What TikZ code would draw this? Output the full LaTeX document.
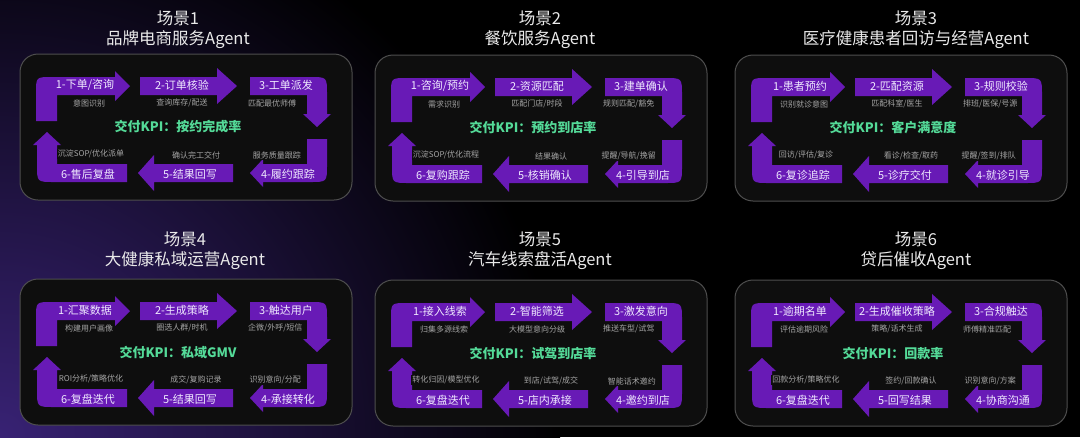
\documentclass[tikz,border=0pt]{standalone}
\usepackage{fontspec}
\newfontfamily\cjk{Noto Sans CJK SC}

\definecolor{flowpurple}{RGB}{104,26,182}
\definecolor{panelfill}{RGB}{14,14,14}
\definecolor{panelline}{RGB}{78,78,78}
\definecolor{steptext}{RGB}{240,234,255}
\definecolor{notegray}{RGB}{165,165,165}
\definecolor{kpigreen}{RGB}{84,218,152}
\definecolor{titlewhite}{RGB}{234,234,234}
\definecolor{glow}{RGB}{56,34,116}

\tikzset{
  panel/.style={draw=panelline, fill=panelfill, line width=1pt, rounded corners=18pt},
  flow/.style={fill=flowpurple},
  steplabel/.style={text=steptext, inner sep=0pt, font=\cjk\fontsize{11}{12}\selectfont},
  stepnote/.style={text=notegray, fill=panelfill, inner sep=1pt, font=\cjk\fontsize{8}{9}\selectfont},
  kpilabel/.style={text=kpigreen, inner sep=0pt, font=\cjk\bfseries\fontsize{13}{14}\selectfont},
  scenetitle/.style={text=titlewhite, align=center, inner sep=0pt, font=\cjk\fontsize{16.5}{20}\selectfont}
}

% frame and the six bent arrows of one scene (local coordinates)
\newcommand{\sceneloop}{%
  \draw[panel] (0,0) rectangle (332,146);
  \fill[flow] (16,67) -- (16,39) .. controls (16,23) .. (32,23) -- (95,23) -- (95,17)
    -- (110,32) -- (95,47) -- (95,41) -- (37,41) -- (37,67) -- cycle;
  \fill[flow] (120,23) -- (197,23) -- (197,14) -- (217,32) -- (197,50) -- (197,41)
    -- (120,41) -- cycle;
  \fill[flow] (230,23) -- (290,23) .. controls (307,23) .. (307,40) -- (307,60) -- (311,60)
    -- (297,73) -- (283,60) -- (287,60) -- (287,41) -- (230,41) -- cycle;
  \fill[flow] (287,85) -- (307,85) -- (307,111) .. controls (307,128) .. (290,128)
    -- (243,128) -- (243,133) -- (230,119) -- (243,105) -- (243,110) -- (287,110) -- cycle;
  \fill[flow] (213,110) -- (213,128) -- (134,128) -- (134,137) -- (118,119) -- (134,101)
    -- (134,110) -- cycle;
  \fill[flow] (107,110) -- (107,128) -- (34,128) .. controls (17,128) .. (17,111) -- (17,91)
    -- (13,91) -- (27,78) -- (41,91) -- (37,91) -- (37,110) -- cycle;
}
\newcommand{\steplabels}[7]{%
  \node[steplabel] (#1-step1) at (65,31) {#2};
  \node[steplabel] (#1-step2) at (162,31) {#3};
  \node[steplabel] (#1-step3) at (266,31) {#4};
  \node[steplabel] (#1-step4) at (268,120) {#5};
  \node[steplabel] (#1-step5) at (170,120) {#6};
  \node[steplabel] (#1-step6) at (68,120) {#7};
}
\newcommand{\stepnotes}[7]{%
  \node[stepnote] (#1-note1) at (69,49) {#2};
  \node[stepnote] (#1-note2) at (162,49) {#3};
  \node[stepnote, anchor=west] (#1-note3) at (227,49) {#4};
  \node[stepnote, anchor=east] (#1-note4) at (282,101) {#5};
  \node[stepnote] (#1-note5) at (176,101) {#6};
  \node[stepnote] (#1-note6) at (71,100) {#7};
}

\begin{document}
\begin{tikzpicture}[x=1pt, y=-1pt]
  \fill[black] (0,0) rectangle (1080,437);
  \begin{scope}
    \clip (0,0) rectangle (1080,437);
    \shade[inner color=glow, outer color=black] (0,437) circle (560);
  \end{scope}
  \useasboundingbox (0,0) rectangle (1080,437);

  % scene 1
  \node[scenetitle] (a-title) at (178,30) {场景1\\品牌电商服务Agent};
  \begin{scope}[shift={(20,54)}]
    \sceneloop
    \node[kpilabel] (a-kpi) at (158,73) {交付KPI：按约完成率};
    \steplabels{a}{1-下单/咨询}{2-订单核验}{3-工单派发}{4-履约跟踪}{5-结果回写}{6-售后复盘}
    \stepnotes{a}{意图识别}{查询库存/配送}{匹配最优师傅}{服务质量跟踪}{确认完工交付}{沉淀SOP/优化派单}
  \end{scope}

  % scene 2
  \node[scenetitle] (b-title) at (540,30) {场景2\\餐饮服务Agent};
  \begin{scope}[shift={(375,55)}]
    \sceneloop
    \node[kpilabel] (b-kpi) at (158,73) {交付KPI：预约到店率};
    \steplabels{b}{1-咨询/预约}{2-资源匹配}{3-建单确认}{4-引导到店}{5-核销确认}{6-复购跟踪}
    \stepnotes{b}{需求识别}{匹配门店/时段}{规则匹配/豁免}{提醒/导航/挽留}{结果确认}{沉淀SOP/优化流程}
  \end{scope}

  % scene 3
  \node[scenetitle] (c-title) at (916,30) {场景3\\医疗健康患者回访与经营Agent};
  \begin{scope}[shift={(735,55)}]
    \sceneloop
    \node[kpilabel] (c-kpi) at (158,73) {交付KPI：客户满意度};
    \steplabels{c}{1-患者预约}{2-匹配资源}{3-规则校验}{4-就诊引导}{5-诊疗交付}{6-复诊追踪}
    \stepnotes{c}{识别就诊意图}{匹配科室/医生}{排班/医保/号源}{提醒/签到/排队}{看诊/检查/取药}{回访/评估/复诊}
  \end{scope}

  % scene 4
  \node[scenetitle] (d-title) at (185,251) {场景4\\大健康私域运营Agent};
  \begin{scope}[shift={(20,279)}]
    \sceneloop
    \node[kpilabel] (d-kpi) at (158,73) {交付KPI：私域GMV};
    \steplabels{d}{1-汇聚数据}{2-生成策略}{3-触达用户}{4-承接转化}{5-结果回写}{6-复盘迭代}
    \stepnotes{d}{构建用户画像}{圈选人群/时机}{企微/外呼/短信}{识别意向/分配}{成交/复购记录}{ROI分析/策略优化}
  \end{scope}

  % scene 5
  \node[scenetitle] (e-title) at (540,251) {场景5\\汽车线索盘活Agent};
  \begin{scope}[shift={(375,280)}]
    \sceneloop
    \node[kpilabel] (e-kpi) at (158,73) {交付KPI：试驾到店率};
    \steplabels{e}{1-接入线索}{2-智能筛选}{3-激发意向}{4-邀约到店}{5-店内承接}{6-复盘迭代}
    \stepnotes{e}{归集多源线索}{大模型意向分级}{推送车型/试驾}{智能话术邀约}{到店/试驾/成交}{转化归因/模型优化}
  \end{scope}

  % scene 6
  \node[scenetitle] (f-title) at (916,251) {场景6\\贷后催收Agent};
  \begin{scope}[shift={(735,280)}]
    \sceneloop
    \node[kpilabel] (f-kpi) at (158,73) {交付KPI：回款率};
    \steplabels{f}{1-逾期名单}{2-生成催收策略}{3-合规触达}{4-协商沟通}{5-回写结果}{6-复盘迭代}
    \stepnotes{f}{评估逾期风险}{策略/话术生成}{师傅精准匹配}{识别意向/方案}{签约/回款确认}{回款分析/策略优化}
  \end{scope}
\end{tikzpicture}
\end{document}
